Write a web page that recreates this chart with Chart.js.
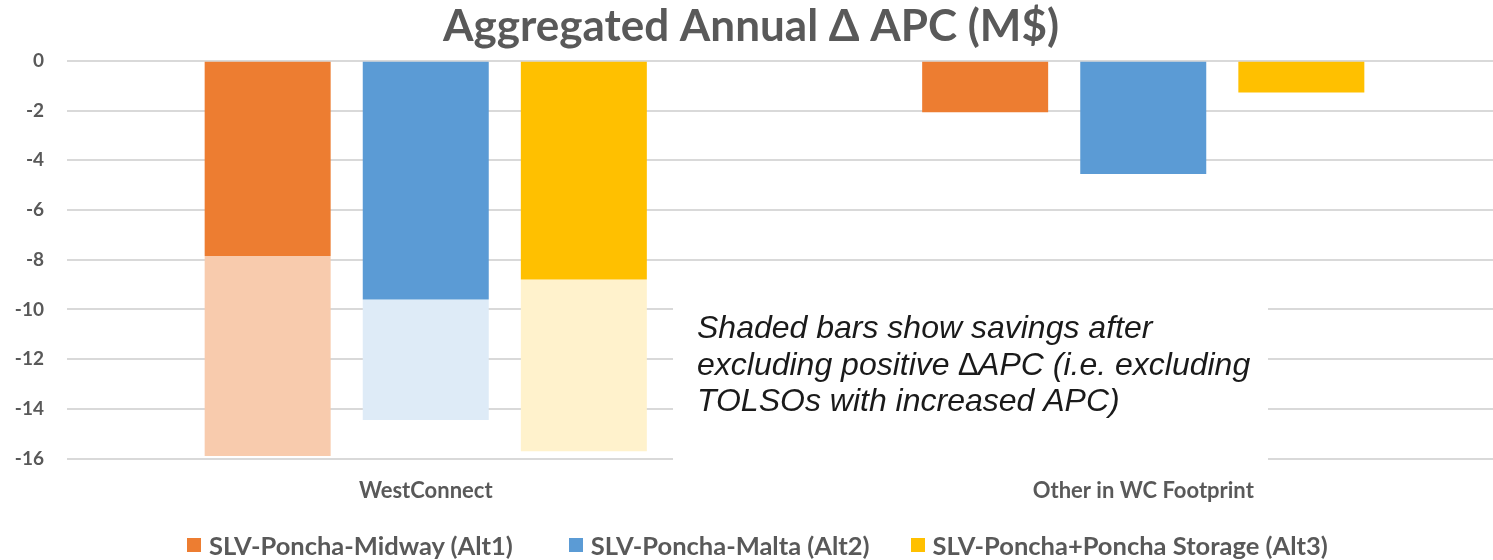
<!DOCTYPE html>
<html lang="en">
<head>
<meta charset="UTF-8">
<title>Aggregated Annual Δ APC</title>
<script src="https://cdn.jsdelivr.net/npm/chart.js"></script>
<style>
  body {
    margin: 0;
    overflow: hidden;
    background: #fff;
  }
  #wrap {
    position: relative;
    width: 1502px;
    height: 560px;
  }
  #legend {
    position: absolute;
    left: 187px;
    top: 530px;
    display: flex;
    font-family: Lato, sans-serif;
    font-weight: bold;
    font-size: 25.5px;
    line-height: 30px;
    color: #595959;
    white-space: nowrap;
  }
  #legend span.item {
    display: flex;
    align-items: center;
  }
  #legend span.box {
    display: inline-block;
    width: 14px;
    height: 14px;
    margin-right: 8px;
  }
</style>
</head>
<body>
<div id="wrap">
  <canvas id="apcChart"></canvas>
  <div id="legend"></div>
</div>
<script>
const categories = ['WestConnect', 'Other in WC Footprint'];
const seriesNames = ['SLV-Poncha-Midway (Alt1)', 'SLV-Poncha-Malta (Alt2)', 'SLV-Poncha+Poncha Storage (Alt3)'];
// full delta APC per alternative
const alt1 = [-7.85, -2.07];
const alt2 = [-9.6, -4.55];
const alt3 = [-8.8, -1.28];
// savings after excluding positive dAPC (shaded), only for WestConnect
const alt1Excl = [-15.9, null];
const alt2Excl = [-14.45, null];
const alt3Excl = [-15.7, null];
const yTicks = [0, -2, -4, -6, -8, -10, -12, -14, -16];
const noteLines = ['Shaded bars show savings after', 'excluding positive \u2206APC (i.e. excluding', 'TOLSOs with increased APC)'];

const solidColors = ['#ED7D31', '#5B9BD5', '#FFC000'];
const shadeColors = ['#F8CBAD', '#DEEBF7', '#FFF2CC'];
const grey = '#595959';

function extra(total, base) {
  return total.map((v, i) => v === null ? null : +(v - base[i]).toFixed(2));
}

const solids = [alt1, alt2, alt3];
const shades = [extra(alt1Excl, alt1), extra(alt2Excl, alt2), extra(alt3Excl, alt3)];

const datasets = [];
solids.forEach((d, i) => {
  datasets.push({ label: seriesNames[i], data: d, backgroundColor: solidColors[i], stack: 's' + i });
});
shades.forEach((d, i) => {
  datasets.push({ label: seriesNames[i] + ' excl.', data: d, backgroundColor: shadeColors[i], stack: 's' + i });
});

// legend only lists the solid series
const legendEl = document.getElementById('legend');
const legendGaps = [56, 41, 0];
seriesNames.forEach((name, i) => {
  const item = document.createElement('span');
  item.className = 'item';
  item.style.marginRight = legendGaps[i] + 'px';
  item.innerHTML = '<span class="box" style="background:' + solidColors[i] + '"></span>' + name;
  legendEl.appendChild(item);
});

// text box with white fill sitting over the gridlines
const notePlugin = {
  id: 'note',
  afterDraw(chart) {
    const ctx = chart.ctx;
    ctx.save();
    ctx.fillStyle = '#fff';
    ctx.fillRect(673, 290, 595, 172);
    ctx.font = 'italic 32px "Liberation Sans", Arial, sans-serif';
    ctx.fillStyle = '#1a1a1a';
    ctx.textBaseline = 'alphabetic';
    noteLines.forEach((t, i) => ctx.fillText(t, 697, 338 + i * 36.5));
    ctx.restore();
  }
};

new Chart(document.getElementById('apcChart'), {
  type: 'bar',
  data: { labels: categories, datasets: datasets },
  plugins: [notePlugin],
  options: {
    responsive: true,
    maintainAspectRatio: false,
    animation: false,
    categoryPercentage: 0.661,
    barPercentage: 0.797,
    layout: { padding: { left: 0, right: 0, top: 0, bottom: 45 } },
    scales: {
      x: {
        stacked: true,
        grid: { display: false },
        border: { display: false },
        ticks: { color: grey, font: { family: 'Lato', weight: 'bold', size: 22 }, padding: 11 }
      },
      y: {
        stacked: true,
        min: -16,
        max: 0,
        afterBuildTicks(axis) { axis.ticks = yTicks.map(v => ({ value: v })); },
        afterFit(axis) { axis.width = 67; },
        grid: { color: '#d9d9d9', lineWidth: 2, drawTicks: false },
        border: { display: false },
        ticks: { color: grey, font: { family: 'Lato', weight: 'bold', size: 19 }, padding: 23 }
      }
    },
    plugins: {
      title: {
        display: true,
        text: 'Aggregated Annual \u0394 APC (M$)',
        color: grey,
        font: { family: 'Lato', weight: 'bold', size: 44 },
        padding: { top: 0, bottom: 8 }
      },
      legend: { display: false },
      tooltip: { enabled: false }
    }
  }
});
</script>
</body>
</html>
